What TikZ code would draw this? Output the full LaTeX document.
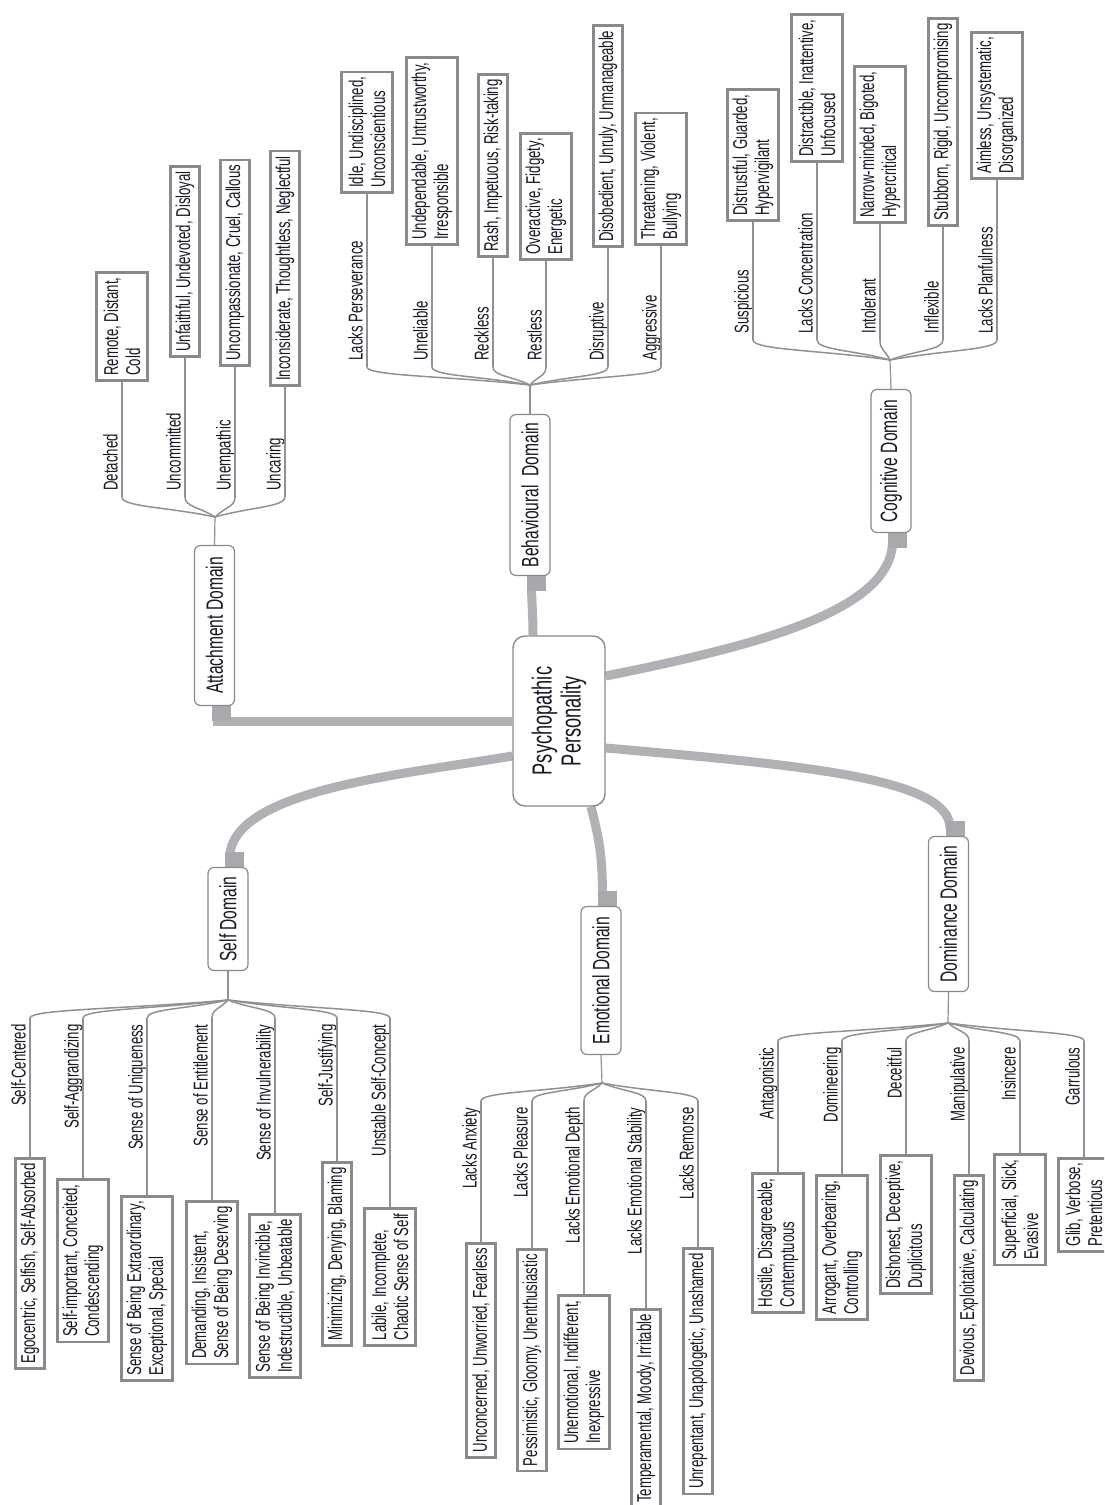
\documentclass[tikz,border=0pt]{standalone}
\usepackage{fontspec}
\setmainfont[FakeStretch=0.66]{Liberation Sans}
\usetikzlibrary{calc,backgrounds}
\definecolor{conn}{RGB}{176,177,181}
\definecolor{blk}{RGB}{168,169,173}
\definecolor{boxc}{RGB}{138,138,140}
\definecolor{linec}{RGB}{145,145,148}
\definecolor{txt}{RGB}{22,24,36}
\newcommand\leaffont{\fontsize{10}{11}\selectfont}
\newcommand\domfont{\fontsize{11.8}{13}\selectfont}
\newcommand\ppfont{\fontsize{13.8}{14.5}\selectfont}
\tikzset{
  leafbox/.style={draw=boxc, line width=1.3pt, rotate=90, align=left, font=\leaffont, text=txt,
    inner xsep=2.5pt, inner ysep=1pt, fill=white},
  lb1/.style={minimum height=14.5pt},
  lb2/.style={minimum height=25.7pt},
  lbl/.style={rotate=90, inner sep=0pt, font=\leaffont, text=txt},
  branch/.style={draw=linec, line width=0.75pt},
  leafline/.style={draw=linec, line width=1.1pt},
  stem/.style={draw=linec, line width=0.6pt},
  conn/.style={draw=conn, line width=4.5pt},
  blockfill/.style={fill=blk},
  dombox/.style={draw=boxc, line width=0.6pt, rounded corners=3pt, rotate=90, font=\domfont,
    fill=white, minimum height=20pt, inner sep=0pt, text=txt},
  ppbox/.style={draw=boxc, line width=0.7pt, rounded corners=6pt, rotate=90, align=center,
    font=\ppfont, minimum width=85pt, minimum height=46pt, fill=white, text=txt}
}
\newcommand\upleaf[8]{%
  \coordinate (#1v) at (#3,#4);
  \node[leafbox,#8,anchor=west] (#1b) at (#3,#5) {#7};
  \node[lbl,anchor=base west] (#1l) at (#3-4.5,#4-6) {#6};
  \draw[branch] (#2) .. controls ($(#2)!0.5!(#1v)$) and ($(#1v)!0.5!(#1v|-#2)$) .. (#1v);
  \draw[leafline] (#1v) -- (#1b.west);
}
\newcommand\downleaf[8]{%
  \coordinate (#1v) at (#3,#4);
  \node[leafbox,#8,anchor=east] (#1b) at (#3,#5) {#7};
  \node[lbl,anchor=base east] (#1l) at (#3-4.5,#4+6) {#6};
  \draw[branch] (#2) .. controls ($(#2)!0.5!(#1v)$) and ($(#1v)!0.5!(#1v|-#2)$) .. (#1v);
  \draw[leafline] (#1v) -- (#1b.east);
}
\begin{document}
\begin{tikzpicture}[x=0.5pt,y=-0.5pt]
\useasboundingbox (0,0) rectangle (1104,1505);
\clip (0,0) rectangle (1104,1505);

% domain boxes and centre
\node[ppbox] (pp) at (559,721) {Psychopathic\\Personality};
\node[dombox, minimum width=80pt] (att) at (214.5,625.5) {Attachment Domain};
\node[dombox, minimum width=80.5pt] (beh) at (530,495) {Behavioural~ Domain};
\node[dombox, minimum width=71.5pt] (cog) at (891,461) {Cognitive Domain};
\node[dombox, minimum width=51.5pt] (self) at (228,919) {Self Domain};
\node[dombox, minimum width=74pt] (emo) at (601,980.5) {Emotional Domain};
\node[dombox, minimum width=77.5pt] (dom) at (948.5,914) {Dominance Domain};

% thick connectors (behind the boxes)
\begin{pgfonlayer}{background}
\fill[white] (0,0) rectangle (1104,1505);
\draw[conn] (pp.north) -| ($(att.west)+(2.5,5)$);
\draw[conn] ($(pp.east)+(-26,0)$) .. controls +(0,-20) and +(0,15) .. ($(beh.west)+(1.5,8)$);
\draw[conn] ($(pp.south)+(0,-45)$) .. controls +(154,-31) and +(0,69) .. ($(cog.west)+(1.5,8)$);
\draw[conn] ($(pp.south)+(0,27)$) .. controls +(194,17) and +(0,-50) .. ($(dom.east)+(1.5,-8)$);
\draw[conn] ($(pp.north)+(0,35)$) .. controls +(-112,19) and +(0,-69) .. ($(self.east)+(1.5,-8)$);
\draw[conn] ($(pp.west)+(32,0)$) .. controls +(7,29) and +(0,-48) .. ($(emo.east)+(1.5,-8)$);
\fill[blockfill] ($(att.west)+(-3,0)$) rectangle ($(att.west)+(16,15)$);
\fill[blockfill] ($(beh.west)+(-3,0)$) rectangle ($(beh.west)+(16,15)$);
\fill[blockfill] ($(cog.west)+(-3,0)$) rectangle ($(cog.west)+(16,15)$);
\fill[blockfill] ($(self.east)+(-3,0)$) rectangle ($(self.east)+(16,-15)$);
\fill[blockfill] ($(emo.east)+(-3,0)$) rectangle ($(emo.east)+(16,-15)$);
\fill[blockfill] ($(dom.east)+(-3,0)$) rectangle ($(dom.east)+(16,-15)$);
\end{pgfonlayer}

% forks
\coordinate (attF) at (215,517);
\coordinate (behF) at (530,385);
\coordinate (cogF) at (890,360);
\coordinate (selfF) at (228,1000);
\coordinate (emoF) at (602,1083);
\coordinate (domF) at (948,1023);
\draw[stem] (att.east) -- (attF);
\draw[stem] (beh.east) -- (behF);
\draw[stem] (cog.east) -- (cogF);
\draw[stem] (self.west) -- (selfF);
\draw[stem] (emo.west) -- (emoF);
\draw[stem] (dom.west) -- (domF);

% Attachment
\upleaf{a1}{attF}{122}{497}{382}{Detached}{Remote, Distant,\\Cold}{lb2}
\upleaf{a2}{attF}{185}{497}{358}{Uncommitted}{Unfaithful, Undevoted, Disloyal}{lb1}
\upleaf{a3}{attF}{235}{497}{367}{Unempathic}{Uncompassionate, Cruel, Callous}{lb1}
\upleaf{a4}{attF}{285}{497}{387}{Uncaring}{Inconsiderate, Thoughtless, Neglectful}{lb1}

% Behavioural
\upleaf{b1}{behF}{367}{367}{194}{Lacks Perseverance}{Idle, Undisciplined,\\Unconscientious}{lb2}
\upleaf{b2}{behF}{432}{367}{246}{Unreliable}{Undependable, Untrustworthy,\\Irresponsible}{lb2}
\upleaf{b3}{behF}{493}{367}{258}{Reckless}{Rash, Impetuous, Risk-taking}{lb1}
\upleaf{b4}{behF}{546}{367}{261}{Restless}{Overactive, Fidgety,\\Energetic}{lb2}
\upleaf{b5}{behF}{608}{367}{248}{Disruptive}{Disobedient, Unruly, Unmanageable}{lb1}
\upleaf{b6}{behF}{661}{367}{246}{Aggressive}{Threatening, Violent,\\Bullying}{lb2}

% Cognitive
\upleaf{c1}{cogF}{753}{340}{222}{Suspicious}{Distrustful, Guarded,\\Hypervigilant}{lb2}
\upleaf{c2}{cogF}{817}{340}{163}{Lacks Concentration}{Distractible, Inattentive,\\Unfocused}{lb2}
\upleaf{c3}{cogF}{880}{340}{224}{Intolerant}{Narrow-minded, Bigoted,\\Hypercritical}{lb2}
\upleaf{c4}{cogF}{943}{340}{227}{Inflexible}{Stubborn, Rigid, Uncompromising}{lb1}
\upleaf{c5}{cogF}{997}{340}{180}{Lacks Planfulness}{Aimless, Unsystematic,\\Disorganized}{lb2}

% Self
\downleaf{s1}{selfF}{30}{1018}{1157}{Self-Centered}{Egocentric, Selfish, Self-Absorbed}{lb1}
\downleaf{s2}{selfF}{83}{1018}{1178}{Self-Aggrandizing}{Self-important, Conceited,\\Condescending}{lb2}
\downleaf{s3}{selfF}{147}{1018}{1195}{Sense of Uniqueness}{Sense of Being Extraordinary,\\Exceptional, Special}{lb2}
\downleaf{s4}{selfF}{212}{1018}{1200}{Sense of Entitlement}{Demanding, Insistent,\\Sense of Being Deserving}{lb2}
\downleaf{s5}{selfF}{275}{1018}{1213}{Sense of Invulnerability}{Sense of Being Invincible,\\Indestructible, Unbeatable}{lb2}
\downleaf{s6}{selfF}{337}{1018}{1161}{Self-Justifying}{Minimizing, Denying, Blaming}{lb1}
\downleaf{s7}{selfF}{390}{1018}{1207}{Unstable Self-Concept}{Labile, Incomplete,\\Chaotic Sense of Self}{lb2}

% Emotional
\downleaf{e1}{emoF}{481}{1101}{1242}{Lacks Anxiety}{Unconcerned, Unworried, Fearless}{lb1}
\downleaf{e2}{emoF}{532}{1101}{1248}{Lacks Pleasure}{Pessimistic, Gloomy, Unenthusiastic}{lb1}
\downleaf{e3}{emoF}{584}{1101}{1294}{Lacks Emotional Depth}{Unemotional, Indifferent,\\Inexpressive}{lb2}
\downleaf{e4}{emoF}{646}{1101}{1308}{Lacks Emotional Stability}{Temperamental, Moody, Irritable}{lb1}
\downleaf{e5}{emoF}{698}{1101}{1247}{Lacks Remorse}{Unrepentant, Unapologetic, Unashamed}{lb1}

% Dominance
\downleaf{d1}{domF}{778}{1041}{1172}{Antagonistic}{Hostile, Disagreeable,\\Contemptuous}{lb2}
\downleaf{d2}{domF}{842}{1041}{1174}{Domineering}{Arrogant, Overbearing,\\Controlling}{lb2}
\downleaf{d3}{domF}{906}{1041}{1154}{Deceitful}{Dishonest, Deceptive,\\Duplicitous}{lb2}
\downleaf{d4}{domF}{969}{1041}{1174}{Manipulative}{Devious, Exploitative, Calculating}{lb1}
\downleaf{d5}{domF}{1020}{1041}{1153}{Insincere}{Superficial, Slick,\\Evasive}{lb2}
\downleaf{d6}{domF}{1084}{1041}{1157}{Garrulous}{Glib, Verbose,\\Pretentious}{lb2}
\end{tikzpicture}
\end{document}
